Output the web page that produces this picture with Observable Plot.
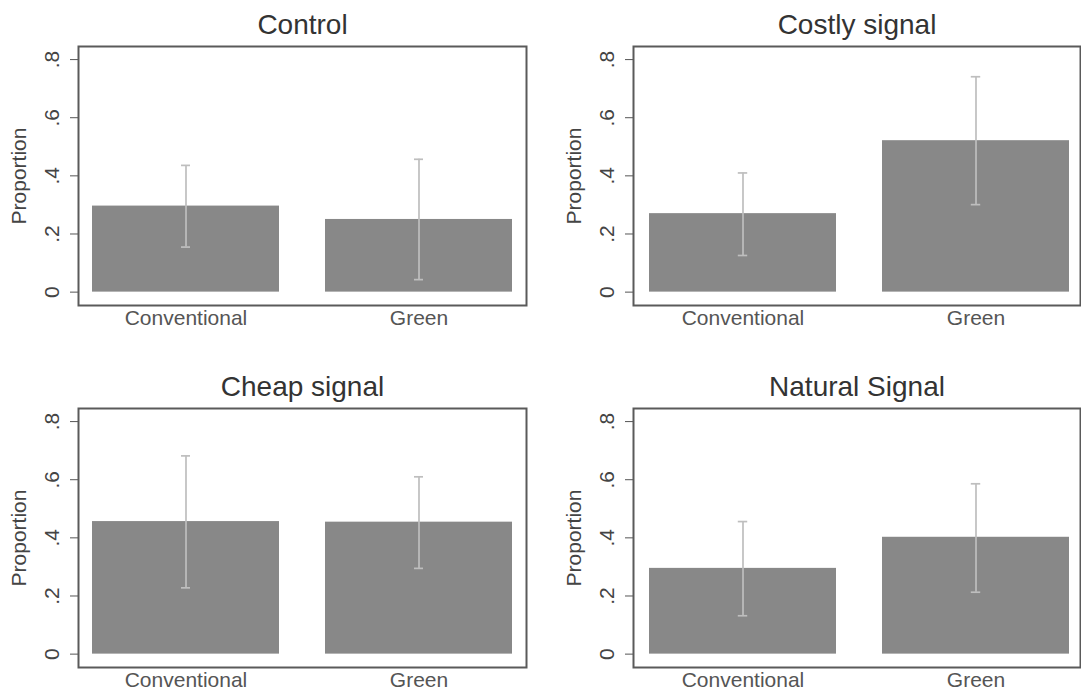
<!DOCTYPE html>
<html>
<head>
<meta charset="utf-8">
<script src="https://cdn.jsdelivr.net/npm/d3@7"></script>
<script src="https://cdn.jsdelivr.net/npm/@observablehq/plot@0.6"></script>
<style>
  html, body { margin: 0; padding: 0; background: #fff; }
  #chart { position: relative; width: 1081px; height: 697px; overflow: hidden; background: #fff; }
  #chart svg { position: absolute; }
</style>
</head>
<body>
<div id="chart"></div>
<script>
// ---- data ----
const panelTitles = ["Control", "Costly signal", "Cheap signal", "Natural Signal"];
const categories = ["Conventional", "Green"];
const convMean  = [0.296, 0.270, 0.456, 0.295];
const convLow   = [0.155, 0.126, 0.228, 0.132];
const convHigh  = [0.436, 0.410, 0.682, 0.456];
const greenMean = [0.250, 0.521, 0.454, 0.402];
const greenLow  = [0.043, 0.301, 0.295, 0.213];
const greenHigh = [0.457, 0.741, 0.610, 0.586];
const yTicks = [0, 0.2, 0.4, 0.6, 0.8];
const yTickLabels = ["0", ".2", ".4", ".6", ".8"];
const yLabel = "Proportion";

// ---- layout ----
const FONT = "'Liberation Sans', Arial, Helvetica, sans-serif";
const padInner = 0.1966, padOuter = 0.0556;
const layouts = [
  {left: 0,   top: 0,   width: 540, height: 340, mL: 78, mR: 14, mT: 46, mB: 35, align: 0.5},
  {left: 540, top: 0,   width: 541, height: 340, mL: 93, mR: 1,  mT: 46, mB: 35, align: 0.6},
  {left: 0,   top: 362, width: 540, height: 335, mL: 78, mR: 14, mT: 46, mB: 30, align: 0.5},
  {left: 540, top: 362, width: 541, height: 335, mL: 93, mR: 1,  mT: 46, mB: 30, align: 0.6}
];

const chart = document.getElementById("chart");

panelTitles.forEach((title, i) => {
  const L = layouts[i];
  const data = [
    {cat: categories[0], mean: convMean[i],  lo: convLow[i],  hi: convHigh[i]},
    {cat: categories[1], mean: greenMean[i], lo: greenLow[i], hi: greenHigh[i]}
  ];
  const W = L.width - L.mL - L.mR;
  const step = W / (categories.length - padInner + 2 * padOuter);
  const bw = step * (1 - padInner);
  const capInset = (bw - 10) / 2;

  const svg = Plot.plot({
    width: L.width,
    height: L.height,
    marginLeft: L.mL,
    marginRight: L.mR,
    marginTop: L.mT,
    marginBottom: L.mB,
    style: {fontFamily: FONT, fontSize: "21px", color: "#555", background: "transparent", overflow: "visible"},
    x: {domain: categories, paddingInner: padInner, paddingOuter: padOuter, align: L.align,
        tickSize: 0, tickPadding: 5, label: null},
    y: {domain: [-0.046, 0.845], ticks: yTicks, tickSize: 8, tickFormat: () => "", label: null},
    marks: [
      Plot.barY(data, {x: "cat", y: "mean", fill: "#888888"}),
      Plot.ruleX(data, {x: "cat", y1: "lo", y2: "hi", stroke: "#bebebe", strokeWidth: 1.7}),
      Plot.tickY(data, {x: "cat", y: "lo", stroke: "#bebebe", strokeWidth: 1.7, insetLeft: capInset, insetRight: capInset}),
      Plot.tickY(data, {x: "cat", y: "hi", stroke: "#bebebe", strokeWidth: 1.7, insetLeft: capInset, insetRight: capInset}),
      Plot.frame({stroke: "#5a5a5a", strokeWidth: 2}),
      Plot.text(yTicks, {y: d => d, text: (d, j) => yTickLabels[j], frameAnchor: "left", dx: -26,
        rotate: -90, textAnchor: "middle", lineAnchor: "middle", fontSize: 21, fill: "#444"}),
      Plot.text([yLabel], {frameAnchor: "left", dx: -59, rotate: -90, textAnchor: "middle",
        lineAnchor: "middle", fontSize: 21, fill: "#444"}),
      Plot.text([title], {frameAnchor: "top", dy: -12.5, textAnchor: "middle", lineAnchor: "bottom",
        fontSize: 28, fill: "#333"})
    ]
  });
  svg.style.left = L.left + "px";
  svg.style.top = L.top + "px";
  chart.appendChild(svg);
});
</script>
</body>
</html>
